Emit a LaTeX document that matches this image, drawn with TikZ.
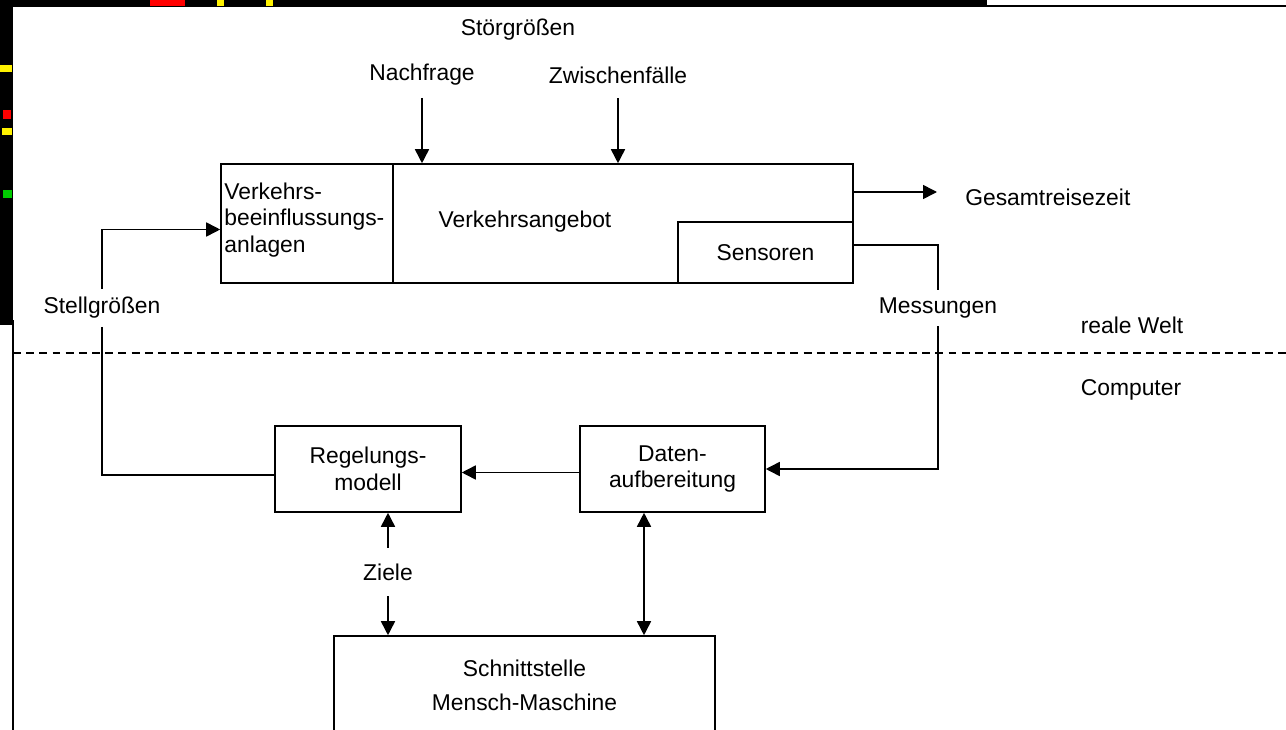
\documentclass[tikz,border=0pt]{standalone}
\usepackage{fontspec}
\setmainfont{Liberation Sans}
\usetikzlibrary{arrows.meta}
\begin{document}
\begin{tikzpicture}[x=0.02cm, y=-0.02cm,
        font=\fontsize{13pt}{15.3pt}\selectfont,
        box/.style={draw, line width=0.9pt, inner sep=0pt, align=center},
        lbl/.style={inner sep=0pt, align=center},
        pfeil/.style={-{Triangle[length=2.8mm,width=2.8mm]}, line width=0.9pt},
        beide/.style={{Triangle[length=2.8mm,width=2.8mm]}-{Triangle[length=2.8mm,width=2.8mm]}, line width=0.9pt}]
    \useasboundingbox (0,0) rectangle (1286,730);
    % Rest des Bildschirmfotos
    \fill (0,0) rectangle (13,325);
    \fill (0,0) rectangle (987,7);
    \draw[line width=1.5pt] (987,6) -- (1286,6);
    \draw[line width=1.2pt] (13,320) -- (13,730);
    \fill[yellow] (0,65) rectangle (12,72);
    \fill[red] (3,110) rectangle (11,119);
    \fill[yellow] (2,128) rectangle (12,135);
    \fill[green!80!black] (3,190) rectangle (12,198);
    \fill[red] (150,0) rectangle (185,6);
    \fill[yellow] (217,0) rectangle (224,6);
    \fill[yellow] (266,0) rectangle (273,6);

    % reale Welt
    \node[box, minimum width=12.64cm, minimum height=2.38cm] (angebot) at (537,223.5) {};
    \node[lbl] (angebottext) at (525,222) {Verkehrsangebot};
    \node[box, minimum width=3.44cm, minimum height=2.38cm] (anlagen) at (307,223.5) {};
    \node[lbl, anchor=west, align=left] (anlagentext) at (224,220) {Verkehrs-\\beeinflussungs-\\anlagen};
    \node[box, minimum width=3.5cm, minimum height=1.22cm] (sensoren) at (765.5,252.5) {Sensoren};

    \node[lbl] (stoer) at (518,30) {Störgrößen};
    \node[lbl] (nachfrage) at (422,75) {Nachfrage};
    \node[lbl] (zwischen) at (618,75) {Zwischenfälle};
    \node[lbl, anchor=west] (gesamt) at (965,197) {Gesamtreisezeit};
    \node[lbl, inner sep=4.5pt] (stell) at (102,308) {Stellgrößen};
    \node[lbl, inner sep=4.5pt] (mess) at (938,308) {Messungen};
    \node[lbl] (welt) at (1132,325) {reale Welt};
    \node[lbl] (computer) at (1131,390) {Computer};

    % Computer
    \node[box, minimum width=3.72cm, minimum height=1.72cm] (regelung) at (368,469) {Regelungs-\\modell};
    \node[box, minimum width=3.7cm, minimum height=1.72cm] (daten) at (672.5,469) {Daten-\\aufbereitung};
    \node[box, minimum width=7.62cm, minimum height=1.96cm,
        font=\fontsize{13pt}{19.3pt}\selectfont] (schnitt) at (524.5,685) {Schnittstelle\\Mensch-Maschine};
    \node[lbl, inner sep=0.31cm] (ziele) at (388,572) {Ziele};

    \coordinate (aus) at (937,192);
    \coordinate (messpunkt) at (938,245);
    \coordinate (trennlinks) at (13,353);
    \coordinate (trennrechts) at (1286,353);

    \draw[pfeil] ([yshift=-0.24cm]nachfrage.south) -- (nachfrage.south |- angebot.north);
    \draw[pfeil] ([yshift=-0.29cm]zwischen.south) -- (zwischen.south |- angebot.north);
    \draw[pfeil] (angebot.east |- aus) -- (aus);
    \draw[line width=0.9pt] (sensoren.east |- messpunkt) -| (mess.north);
    \draw[pfeil] (mess.south) |- (daten.east);
    \draw[pfeil] (stell.north) |- ([yshift=-0.12cm]anlagen.west);
    \draw[line width=0.9pt] (stell.south) |- ([yshift=-0.12cm]regelung.west);
    \draw[pfeil] ([yshift=-0.07cm]daten.west) -- ([yshift=-0.07cm]regelung.east);
    \draw[pfeil] (ziele.north) -- (ziele.north |- regelung.south);
    \draw[pfeil] (ziele.south) -- (ziele.south |- schnitt.north);
    \draw[beide] ([xshift=-0.57cm]daten.south) -- ([xshift=-0.57cm]daten.south |- schnitt.north);

    \draw[line width=0.9pt, dash pattern=on 4.5pt off 3pt] (trennlinks) -- (trennrechts);
\end{tikzpicture}
\end{document}
